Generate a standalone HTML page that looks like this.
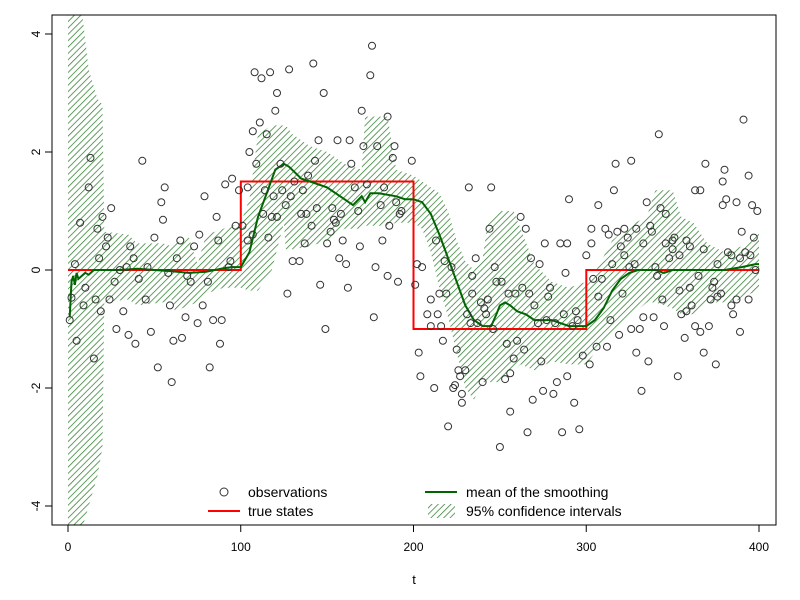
<!DOCTYPE html>
<html><head><meta charset="utf-8"><style>
body{margin:0;background:#fff;}
svg{display:block;font-family:"Liberation Sans",Arial,sans-serif;}
</style></head><body>
<svg id="chart" width="800" height="600" viewBox="0 0 800 600">
<defs>
<pattern id="hatch" patternUnits="userSpaceOnUse" width="4.5" height="4.5" patternTransform="rotate(45)">
<line x1="0" y1="0" x2="0" y2="4.5" stroke="#2f7f2f" stroke-width="1.5"/>
</pattern>
<clipPath id="plotclip"><rect x="52" y="15" width="724" height="510"/></clipPath>
</defs>
<rect x="0" y="0" width="800" height="600" fill="#fff"/>
<g id="band" clip-path="url(#plotclip)"></g>
<g id="lines" clip-path="url(#plotclip)"></g>
<g id="points" clip-path="url(#plotclip)"></g>
<rect x="52" y="15" width="724" height="510" fill="none" stroke="#000" stroke-width="1"/>
<g id="axes"></g>
<text x="414" y="584" font-size="13" text-anchor="middle">t</text>
<g>
<circle cx="224" cy="492" r="4" fill="none" stroke="#333" stroke-width="1"/>
<text x="248" y="497" font-size="14">observations</text>
<line x1="208" y1="511" x2="240" y2="511" stroke="#f00" stroke-width="2"/>
<text x="248" y="516" font-size="14">true states</text>
<line x1="425" y1="492" x2="457" y2="492" stroke="#006400" stroke-width="2"/>
<text x="466" y="497" font-size="14">mean of the smoothing</text>
<rect x="428" y="504" width="27" height="14" fill="url(#hatch)"/>
<text x="466" y="516" font-size="14">95% confidence intervals</text>
</g>
</svg>
<script>
const xTicks = [0, 100, 200, 300, 400];
const yTicks = [-4, -2, 0, 2, 4];
const trueT = [0, 100, 100, 200, 200, 300, 300, 400];
const trueY = [0, 0, 1.5, 1.5, -1, -1, 0, 0];
const meanT = [1,2,3,4,5,6,8,10,12,15,20,30,40,50,60,70,80,90,95,100,105,110,115,120,125,128,135,140,150,160,165,170,172,175,180,190,195,200,205,210,215,220,225,230,235,240,245,248,250,253,256,260,265,270,280,290,300,305,310,315,320,325,330,340,345,350,360,370,380,390,398,400];
const meanY = [-0.8,-0.2,-0.1,-0.25,-0.05,-0.15,-0.1,-0.05,-0.08,0,0,0,0.02,0,-0.02,-0.05,-0.03,0.03,0.05,0.05,0.3,0.9,1.3,1.7,1.8,1.75,1.55,1.5,1.4,1.2,1.1,1.25,1.15,1.3,1.3,1.25,1.2,1.2,1.15,0.95,0.6,0.2,-0.2,-0.6,-0.85,-0.95,-0.95,-0.75,-0.6,-0.55,-0.6,-0.7,-0.75,-0.85,-0.85,-0.95,-0.95,-0.85,-0.65,-0.35,-0.15,-0.05,0,0,-0.05,0,0,0,0,0.05,0.1,0.1];
const bandT = [0,8,12,17,20,21,35,40,55,60,62,70,75,80,90,100,105,110,118,125,126,130,140,150,160,170,172,185,190,200,205,210,215,220,225,230,235,240,243,250,258,262,270,280,290,300,305,315,325,335,340,350,355,362,370,380,390,395,400];
const bandUp = [4.4,4.4,3.4,2.9,2.8,0.65,0.6,0.45,0.45,0.4,0.45,0.55,0.1,0.6,0.7,0.8,1.2,2.3,2.45,2.45,2.45,2.3,2.1,2.0,1.8,1.7,2.6,2.6,1.7,1.6,1.5,1.4,1.3,1.0,0.5,0.15,0.0,0.2,0.8,1.0,1.0,0.7,0.1,-0.2,-0.3,-0.2,-0.05,0.5,0.75,0.9,1.35,1.35,0.9,0.8,0.45,0.3,0.4,0.55,0.65];
const bandLo = [-4.4,-4.4,-4.0,-3.5,-3.0,-0.55,-0.5,-0.6,-0.55,-0.5,-0.7,-0.6,-0.55,-0.4,-0.3,-0.3,-0.35,-0.35,0.0,0.8,0.35,0.35,0.4,0.5,0.7,0.7,0.75,0.75,0.8,0.8,0.7,0.3,-0.3,-0.8,-1.4,-2.0,-2.2,-1.9,-1.9,-1.9,-1.7,-1.6,-1.7,-1.55,-1.6,-1.6,-1.4,-1.1,-0.8,-0.55,-0.55,-0.65,-0.75,-0.75,-0.55,-0.55,-0.5,-0.4,-0.35];
const obsT = [1,2,4,5,7,9,10,12,13,15,16,17,18,19,20,22,23,24,25,27,28,30,32,34,35,36,38,39,41,43,45,46,48,50,52,54,55,56,58,59,60,61,63,65,66,68,69,71,73,75,76,78,79,81,82,84,86,87,88,89,91,93,94,95,97,99,
108,112,117,128,142,176,175,121,148,120,170,111,107,115,105,109,145,156,163,171,179,185,189,188,199,143,164,123,139,131,114,124,136,119,129,166,173,183,104,126,144,153,158,168,181,190,193,113,118,121,138,135,154,155,141,186,192,101,107,104,116,152,159,137,150,182,169,130,134,157,161,178,185,191,146,162,127,177,149,
232,245,290,262,244,265,276,285,289,213,236,268,202,218,205,222,273,300,247,234,288,201,251,248,263,279,215,219,234,255,259,267,278,210,243,239,270,241,208,214,231,242,287,294,233,237,216,210,272,277,282,292,295,246,217,254,260,203,225,264,298,258,274,226,230,227,204,256,253,240,283,289,212,223,224,228,275,281,269,228,293,256,220,266,286,296,250,
391,342,317,326,369,380,394,379,316,363,366,307,335,381,387,379,396,399,343,346,303,311,313,318,322,329,337,338,390,397,303,320,324,333,346,351,350,350,358,360,368,322,348,354,382,384,392,389,395,315,328,340,376,325,398,341,365,304,309,374,321,307,354,360,373,344,372,378,376,387,394,384,385,355,358,361,333,339,314,326,331,345,363,371,366,319,389,357,306,312,329,368,302,336,375,353,332];
const obsY = [-0.85,-0.47,0.1,-1.2,0.8,-0.6,-0.3,1.4,1.9,-1.5,-0.5,0.7,0.2,-0.7,0.9,0.4,0.55,-0.5,1.05,-0.2,-1.0,0,-0.7,0.05,-1.1,0.4,0.2,-1.25,-0.15,1.85,-0.5,0.05,-1.05,0.55,-1.65,1.15,0.85,1.4,-0.05,-0.6,-1.9,-1.2,0.2,0.5,-1.15,-0.8,-0.1,-0.2,0.4,-0.9,0.6,-0.6,1.25,-0.2,-1.65,-0.85,0.9,0.5,-1.25,-0.85,1.45,0.05,0.15,1.55,0.75,1.35,
3.35,3.25,3.35,3.4,3.5,3.8,3.3,3.0,3.0,2.7,2.7,2.5,2.35,2.3,2.0,1.8,2.2,2.2,2.2,2.1,2.1,2.6,2.1,1.9,1.85,1.85,1.8,1.8,1.6,1.5,1.35,1.35,1.35,1.25,1.25,1.4,1.45,1.4,1.4,1.1,1.05,1.05,0.95,1.0,1.1,1.15,1.0,0.95,0.9,0.9,0.95,0.95,0.85,0.8,0.75,0.75,0.95,0.75,0.6,0.5,0.55,0.65,0.5,0.45,0.45,0.5,0.4,0.15,0.15,0.2,0.1,0.05,-0.1,-0.2,-0.25,-0.3,-0.4,-0.8,-1.0,
1.4,1.4,1.2,0.9,0.7,0.7,0.45,0.45,0.45,0.5,0.2,0.2,0.1,0.15,0.05,0.05,0.1,0.25,0.05,-0.1,-0.05,-0.25,-0.2,-0.2,-0.3,-0.3,-0.4,-0.4,-0.4,-0.4,-0.4,-0.4,-0.45,-0.5,-0.5,-0.55,-0.6,-0.65,-0.75,-0.75,-0.75,-0.75,-0.75,-0.7,-0.9,-0.9,-0.95,-0.95,-0.9,-0.85,-0.9,-0.95,-0.85,-1.0,-1.2,-1.25,-1.2,-1.4,-1.35,-1.35,-1.45,-1.5,-1.55,-1.7,-1.7,-1.8,-1.8,-1.75,-1.85,-1.9,-1.9,-1.8,-2.0,-2.0,-1.95,-2.1,-2.05,-2.1,-2.2,-2.25,-2.25,-2.4,-2.65,-2.75,-2.75,-2.7,-3.0,
2.55,2.3,1.8,1.85,1.8,1.7,1.6,1.5,1.35,1.35,1.35,1.1,1.15,1.2,1.15,1.1,1.1,1.0,1.05,0.95,0.7,0.7,0.6,0.65,0.7,0.7,0.75,0.65,0.65,0.55,0.45,0.4,0.55,0.45,0.45,0.55,0.5,0.35,0.5,0.4,0.35,0.25,0.2,0.25,0.3,0.25,0.3,0.2,0.25,0.1,0.1,0.05,0.1,0.05,0.0,-0.1,-0.1,-0.15,-0.15,-0.2,-0.4,-0.45,-0.35,-0.3,-0.3,-0.5,-0.5,-0.4,-0.45,-0.5,-0.5,-0.6,-0.75,-0.75,-0.7,-0.6,-0.8,-0.8,-0.85,-1.0,-1.0,-0.95,-0.95,-0.95,-1.05,-1.1,-1.05,-1.15,-1.3,-1.3,-1.4,-1.4,-1.6,-1.55,-1.6,-1.8,-2.05];

const X0 = 68, X1 = 759, Y0 = 270, YU = 59;
function xs(t){ return X0 + (t - 0) * (X1 - X0) / 400; }
function ys(v){ return Y0 - v * YU; }
const NS = 'http://www.w3.org/2000/svg';

let d = '';
for (let i = 0; i < bandT.length; i++) d += (i ? 'L' : 'M') + xs(bandT[i]).toFixed(1) + ',' + ys(bandUp[i]).toFixed(1);
for (let i = bandT.length - 1; i >= 0; i--) d += 'L' + xs(bandT[i]).toFixed(1) + ',' + ys(bandLo[i]).toFixed(1);
d += 'Z';
const bp = document.createElementNS(NS, 'path');
bp.setAttribute('d', d);
bp.setAttribute('fill', 'url(#hatch)');


document.getElementById('band').appendChild(bp);

const lines = document.getElementById('lines');
const tp = document.createElementNS(NS, 'polyline');
tp.setAttribute('points', trueT.map((t, i) => xs(t).toFixed(1) + ',' + ys(trueY[i]).toFixed(1)).join(' '));
tp.setAttribute('fill', 'none');
tp.setAttribute('stroke', '#ff0000');
tp.setAttribute('stroke-width', '2');


lines.appendChild(tp);

const mp = document.createElementNS(NS, 'polyline');
mp.setAttribute('points', meanT.map((t, i) => xs(t).toFixed(1) + ',' + ys(meanY[i]).toFixed(1)).join(' '));
mp.setAttribute('fill', 'none');
mp.setAttribute('stroke', '#006400');
mp.setAttribute('stroke-width', '2');


lines.appendChild(mp);

const pg = document.getElementById('points');
for (let i = 0; i < obsT.length; i++) {
  const c = document.createElementNS(NS, 'circle');
  c.setAttribute('cx', xs(obsT[i]).toFixed(1));
  c.setAttribute('cy', ys(obsY[i]).toFixed(1));
  c.setAttribute('r', '3.5');
  c.setAttribute('fill', 'none');
  c.setAttribute('stroke', '#333');
  c.setAttribute('stroke-width', '1');
  
  
  pg.appendChild(c);
}

const ax = document.getElementById('axes');
xTicks.forEach(t => {
  const l = document.createElementNS(NS, 'line');
  l.setAttribute('x1', xs(t)); l.setAttribute('x2', xs(t));
  l.setAttribute('y1', 525); l.setAttribute('y2', 532);
  l.setAttribute('stroke', '#000');
  
  
  ax.appendChild(l);
  const tx = document.createElementNS(NS, 'text');
  tx.setAttribute('x', xs(t)); tx.setAttribute('y', 551);
  tx.setAttribute('font-size', '12'); tx.setAttribute('text-anchor', 'middle');
  tx.textContent = t;
  
  
  ax.appendChild(tx);
});
yTicks.forEach(v => {
  const l = document.createElementNS(NS, 'line');
  l.setAttribute('x1', 45); l.setAttribute('x2', 52);
  l.setAttribute('y1', ys(v)); l.setAttribute('y2', ys(v));
  l.setAttribute('stroke', '#000');
  
  
  ax.appendChild(l);
  const tx = document.createElementNS(NS, 'text');
  tx.setAttribute('x', 0); tx.setAttribute('y', 0);
  tx.setAttribute('transform', 'translate(40,' + ys(v) + ') rotate(-90)');
  tx.setAttribute('font-size', '12'); tx.setAttribute('text-anchor', 'middle');
  tx.textContent = v;
  
  
  ax.appendChild(tx);
});
</script>
</body></html>
